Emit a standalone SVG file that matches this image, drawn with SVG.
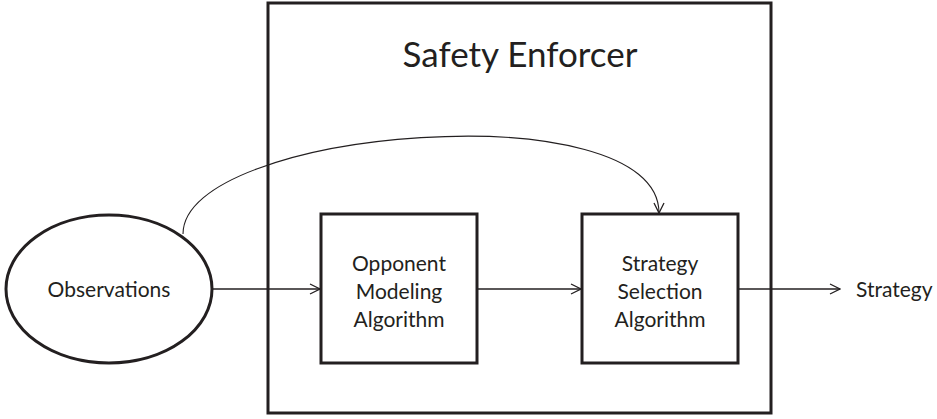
<svg xmlns="http://www.w3.org/2000/svg" width="937" height="419" viewBox="0 0 937 419">
<defs>
<style>
.shape{fill:#fff;stroke:#231f20;stroke-width:3}
.txt{font-family:Lato,"Open Sans",sans-serif;font-size:21px;fill:#231f20;text-anchor:middle}
.line{fill:none;stroke:#231f20;stroke-width:1.6}
.curve{fill:none;stroke:#231f20;stroke-width:1.1}
</style>
<marker id="arr" viewBox="0 0 12 12" refX="11" refY="6" markerWidth="12" markerHeight="12" markerUnits="userSpaceOnUse" orient="auto">
<path d="M1,1 L11,6 L1,11" fill="none" stroke="#231f20" stroke-width="1.3"/>
</marker>
</defs>
<rect width="937" height="419" fill="#fff"/>
<g id="safety-enforcer">
<rect class="shape" x="268" y="3" width="503" height="410"/>
<text class="txt" x="520" y="67" style="font-size:35px">Safety Enforcer</text>
</g>
<g id="observations">
<ellipse class="shape" cx="109" cy="289" rx="103" ry="74"/>
<text class="txt" x="109" y="297">Observations</text>
</g>
<g id="opponent-modeling">
<rect class="shape" x="321" y="214" width="156" height="149"/>
<text class="txt" x="399" y="271">Opponent</text>
<text class="txt" x="399" y="299">Modeling</text>
<text class="txt" x="399" y="327">Algorithm</text>
</g>
<g id="strategy-selection">
<rect class="shape" x="582" y="214" width="156" height="149"/>
<text class="txt" x="660" y="271">Strategy</text>
<text class="txt" x="660" y="299">Selection</text>
<text class="txt" x="660" y="327">Algorithm</text>
</g>
<g id="strategy-output">
<text class="txt" x="856" y="297" style="text-anchor:start">Strategy</text>
</g>
<g id="connectors">
<path class="line" d="M212,289 L320,289" marker-end="url(#arr)"/>
<path class="line" d="M477,289 L581,289" marker-end="url(#arr)"/>
<path class="line" d="M738,289 L840,289" marker-end="url(#arr)"/>
<path class="curve" d="M183,234 C183,128 659,90 659,213" marker-end="url(#arr)"/>
</g>
</svg>
